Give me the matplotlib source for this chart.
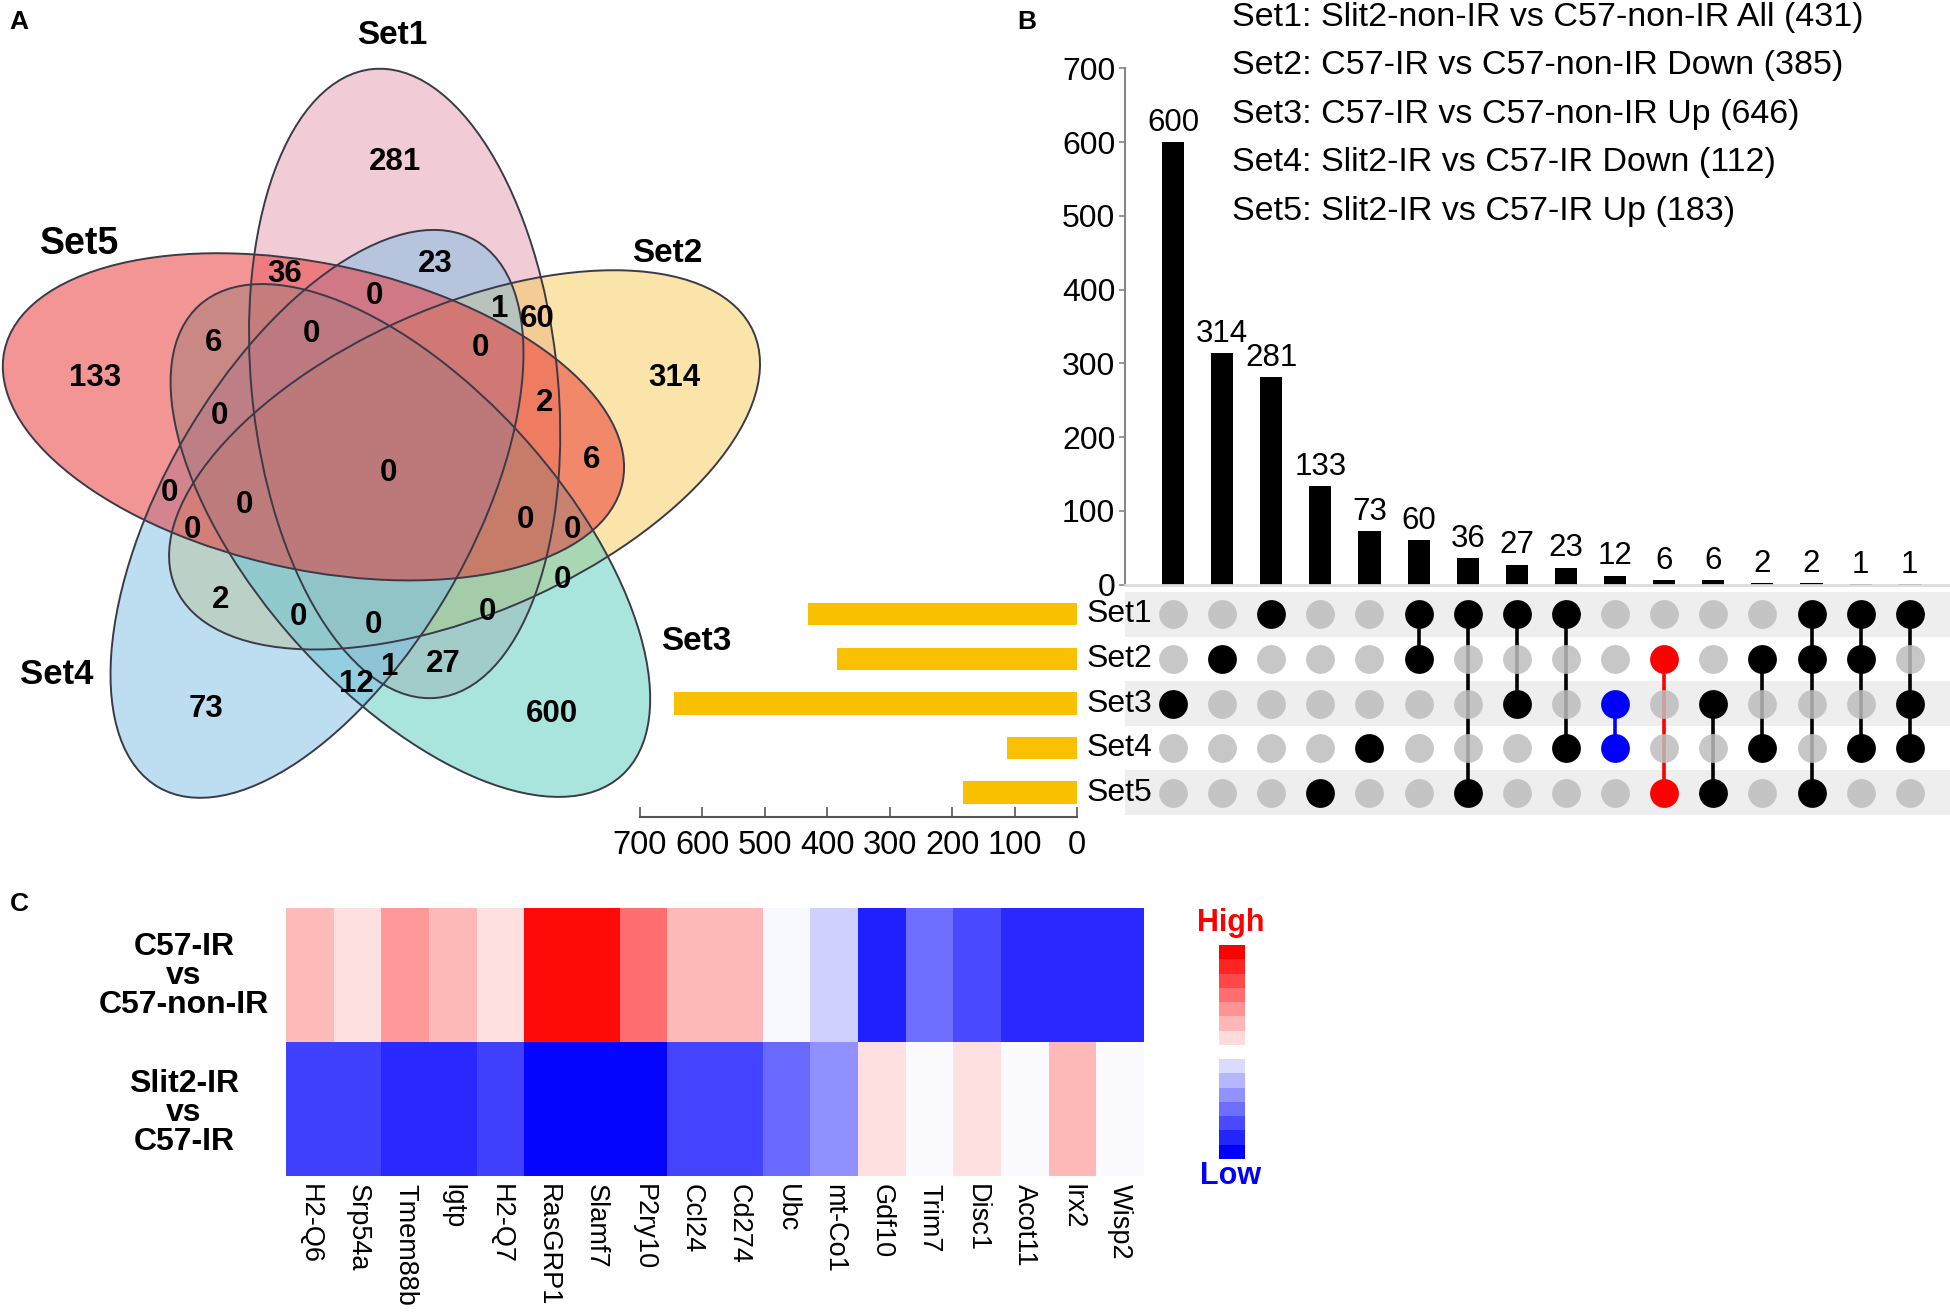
import numpy as np
import matplotlib
matplotlib.use('Agg')
import matplotlib.pyplot as plt
from matplotlib.patches import Ellipse
from matplotlib.cm import ScalarMappable
from matplotlib.colors import Normalize

# ---------------- data ----------------
set_names = ['Set1', 'Set2', 'Set3', 'Set4', 'Set5']
set_sizes = [431, 385, 646, 112, 183]
set_desc = ['Slit2-non-IR vs C57-non-IR All',
            'C57-IR vs C57-non-IR Down',
            'C57-IR vs C57-non-IR Up',
            'Slit2-IR vs C57-IR Down',
            'Slit2-IR vs C57-IR Up']
set_colors = ['#E59BB1', '#F7CB55', '#55CDBD', '#7DBDE5', '#EB2D2D']

inter_sizes = [600, 314, 281, 133, 73, 60, 36, 27, 23, 12, 6, 6, 2, 2, 1, 1]
inter_members = [[3], [2], [1], [5], [4], [1, 2], [1, 5], [1, 3], [1, 4],
                 [3, 4], [2, 5], [3, 5], [2, 4], [1, 2, 5], [1, 2, 4], [1, 3, 4]]
inter_colors = ['black'] * 9 + ['blue', 'red'] + ['black'] * 5

venn_counts = [281, 23, 36, 0, 1, 60, 6, 0, 0, 133, 314, 0, 2, 0, 6,
               0, 0, 0, 0, 0, 0, 2, 0, 0, 0, 27, 1, 12, 73, 600]
venn_count_xy = [(395, 162), (435, 264), (285, 274), (374, 296), (500, 309),
                 (537, 319), (214, 343), (311, 334), (480, 348), (95, 378),
                 (674, 378), (219, 416), (545, 403), (388, 473), (592, 460),
                 (169, 493), (244, 505), (192, 530), (525, 520), (572, 530),
                 (562, 580), (221, 600), (298, 617), (373, 625), (487, 612),
                 (443, 664), (390, 667), (356, 684), (206, 709), (552, 714)]
venn_setlabel_xy = [(392, 35), (667, 254), (696, 642), (57, 674), (80, 244)]
venn_setlabel_size = [24, 24, 24, 25, 27]

genes = ['H2-Q6', 'Srp54a', 'Tmem88b', 'Igtp', 'H2-Q7', 'RasGRP1', 'Slamf7',
         'P2ry10', 'Ccl24', 'Cd274', 'Ubc', 'mt-Co1', 'Gdf10', 'Trim7', 'Disc1',
         'Acot11', 'Irx2', 'Wisp2']
row_labels = ['C57-IR\nvs\nC57-non-IR', 'Slit2-IR\nvs\nC57-IR']
expr_row1 = [0.27, 0.12, 0.40, 0.28, 0.12, 0.96, 0.96, 0.57, 0.28, 0.28,
             -0.03, -0.18, -0.87, -0.57, -0.71, -0.84, -0.84, -0.84]
expr_row2 = [-0.75, -0.75, -0.84, -0.84, -0.75, -0.98, -0.98, -0.98, -0.73, -0.73,
             -0.58, -0.43, 0.12, -0.02, 0.12, -0.02, 0.28, -0.02]

# ---------------- setup ----------------
W, H = 1950, 1314
plt.rcParams['font.family'] = ['Liberation Sans', 'DejaVu Sans']
fig = plt.figure(figsize=(W / 100, H / 100), dpi=100)


def box(x0, y0, x1, y1):
    return [x0 / W, 1 - y1 / H, (x1 - x0) / W, (y1 - y0) / H]


def ftext(x, y, s, **kw):
    fig.text(x / W, 1 - y / H, s, **kw)


# ---------------- panel A: Venn ----------------
ax0 = fig.add_axes([0, 0, 1, 1])
ax0.set_xlim(0, W)
ax0.set_ylim(H, 0)
ax0.axis('off')
ax0.patch.set_alpha(0)

O = np.array([382.0, 462.9])
d_off, gamma, theta1, a_ax, b_ax = 82.6, -74.1, 84.1, 316, 153
for k in range(5):
    g = np.deg2rad(gamma + 72 * k)
    c = O + d_off * np.array([np.cos(g), np.sin(g)])
    ang = theta1 + 72 * k
    ax0.add_patch(Ellipse(c, 2 * a_ax, 2 * b_ax, angle=ang, facecolor=set_colors[k],
                          alpha=0.5, lw=0, zorder=1))
for k in range(5):
    g = np.deg2rad(gamma + 72 * k)
    c = O + d_off * np.array([np.cos(g), np.sin(g)])
    ang = theta1 + 72 * k
    ax0.add_patch(Ellipse(c, 2 * a_ax, 2 * b_ax, angle=ang, fill=False,
                          edgecolor='#3a3a48', lw=1.4, zorder=2))
for n, (x, y) in zip(venn_counts, venn_count_xy):
    ax0.text(x, y, str(n), ha='center', va='center', fontsize=22.5,
             fontweight='bold', zorder=3)
for name, (x, y), fs in zip(set_names, venn_setlabel_xy, venn_setlabel_size):
    ax0.text(x, y, name, ha='center', va='center', fontsize=fs,
             fontweight='bold', zorder=3)

# ---------------- panel B: UpSet ----------------
x_lo, x_hi = -0.978, 15.82
axb = fig.add_axes(box(1125, 68.4, 1950, 584.5))
xs = np.arange(len(inter_sizes))
axb.bar(xs, inter_sizes, width=0.45, color='black')
axb.set_xlim(x_lo, x_hi)
axb.set_ylim(0, 700)
for x, v in zip(xs, inter_sizes):
    axb.annotate(str(v), (x, v), xytext=(0, 3), textcoords='offset points',
                 ha='center', va='bottom', fontsize=22.5)
axb.set_yticks(range(0, 701, 100))
axb.tick_params(axis='y', labelsize=23, length=4, width=1.2, color='#888888', pad=3)
axb.set_xticks([])
for s in ['top', 'right']:
    axb.spines[s].set_visible(False)
axb.spines['left'].set_color('#888888')
axb.spines['left'].set_linewidth(1.5)
axb.spines['bottom'].set_color('#dddddd')
axb.spines['bottom'].set_linewidth(2)
axb.patch.set_alpha(0)

axm = fig.add_axes(box(1125, 592, 1950, 815))
axm.set_xlim(x_lo, x_hi)
axm.set_ylim(4.5, -0.5)
axm.axis('off')
for r in range(5):
    if r % 2 == 0:
        axm.axhspan(r - 0.5, r + 0.5, color='#eeeeee', lw=0, zorder=0)
for i, (mem, col) in enumerate(zip(inter_members, inter_colors)):
    rows = [m - 1 for m in mem]
    if len(rows) > 1:
        axm.plot([i, i], [min(rows), max(rows)], color=col, lw=2.6, zorder=2,
                 solid_capstyle='butt')
    for r in range(5):
        if r in rows:
            axm.scatter(i, r, s=430, color=col, zorder=4, lw=0)
        else:
            axm.scatter(i, r, s=430, color='#bdbdbd', alpha=0.85, zorder=3, lw=0)
for r, name in enumerate(set_names):
    axm.text(-0.43, r, name, ha='right', va='center', fontsize=23, zorder=5)

axs = fig.add_axes(box(640, 592, 1077, 817))
axs.barh(range(5), set_sizes, height=0.5, color='#F9C000')
axs.set_xlim(700, 0)
axs.set_ylim(4.55, -0.5)
axs.set_yticks([])
axs.set_xticks(range(0, 701, 100))
axs.tick_params(axis='x', direction='in', length=7, width=1.2, color='#555555',
                labelsize=23.5, pad=9)
for s in ['top', 'right', 'left']:
    axs.spines[s].set_visible(False)
axs.spines['bottom'].set_color('#555555')
axs.spines['bottom'].set_linewidth(1.5)
axs.patch.set_alpha(0)

for i, (name, desc, size) in enumerate(zip(set_names, set_desc, set_sizes)):
    ftext(1232, 17.4 + 48.5 * i, f'{name}: {desc} ({size})', fontsize=24.5,
          ha='left', va='center')

# ---------------- panel C: heatmap ----------------
axh = fig.add_axes(box(286, 908, 1144, 1176))
data = np.array([expr_row1, expr_row2])
axh.imshow(data, cmap='bwr', vmin=-1, vmax=1, aspect='auto', interpolation='nearest')
axh.set_xticks(range(len(genes)))
axh.set_xticklabels(genes, rotation=270, fontsize=19.5)
axh.tick_params(axis='x', length=0, pad=6)
axh.set_yticks([])
for s in axh.spines.values():
    s.set_visible(False)
for lab, y in zip(row_labels, [976, 1113]):
    ftext(184, y, lab, fontsize=23, fontweight='bold', ha='center', va='center',
          multialignment='center', linespacing=0.95)

axc = fig.add_axes(box(1219, 945, 1245, 1159))
cb = fig.colorbar(ScalarMappable(norm=Normalize(-1, 1), cmap=plt.get_cmap('bwr', 15)),
                  cax=axc)
cb.outline.set_visible(False)
cb.set_ticks([])
ftext(1231, 923, 'High', fontsize=22, fontweight='bold', color='#FF0000',
      ha='center', va='center')
ftext(1231, 1176, 'Low', fontsize=22, fontweight='bold', color='#0000FF',
      ha='center', va='center')

# panel letters
for lab, (x, y) in zip(['A', 'B', 'C'], [(19, 22), (1027, 22), (19, 904)]):
    ftext(x, y, lab, fontsize=19, fontweight='bold', ha='center', va='center')

fig.savefig('out.png', dpi=100)
